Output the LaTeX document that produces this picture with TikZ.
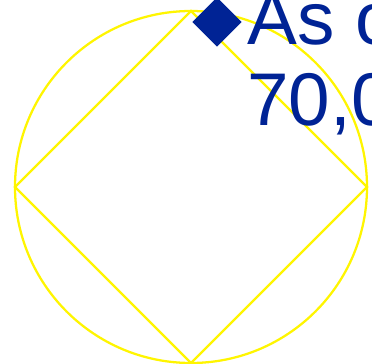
\documentclass[tikz,border=0pt]{standalone}
\usepackage{fontspec}
\setmainfont{Liberation Sans}
\usetikzlibrary{shapes.geometric,positioning}
\definecolor{markblue}{RGB}{0,35,149}
\definecolor{ringyellow}{RGB}{255,245,0}

\begin{document}
\begin{tikzpicture}[
    x=0.75pt, y=-0.75pt,
    ringline/.style={draw=ringyellow, line width=1.7pt},
    marker/.style={diamond, fill=markblue, inner sep=0pt, minimum size=37pt},
    bigtext/.style={text=markblue, inner sep=0pt, font=\fontsize{56}{61}\selectfont}
]
\useasboundingbox (0,0) rectangle (372,364);
\coordinate (c) at (191,187);
\coordinate (top) at (191,11);
\coordinate (rgt) at (367,187);
\coordinate (bot) at (191,363);
\coordinate (lft) at (15,187);

\draw[ringline] (c) circle (176);
\draw[ringline, line join=miter] (top) -- (rgt) -- (bot) -- (lft) -- cycle;

\node[marker] (mk) at (217,22) {};
\node[bigtext, anchor=base west] (asof) at (247,45) {As o};
\node[bigtext, anchor=base west] (count) at (247,125) {70,0};
\end{tikzpicture}
\end{document}
